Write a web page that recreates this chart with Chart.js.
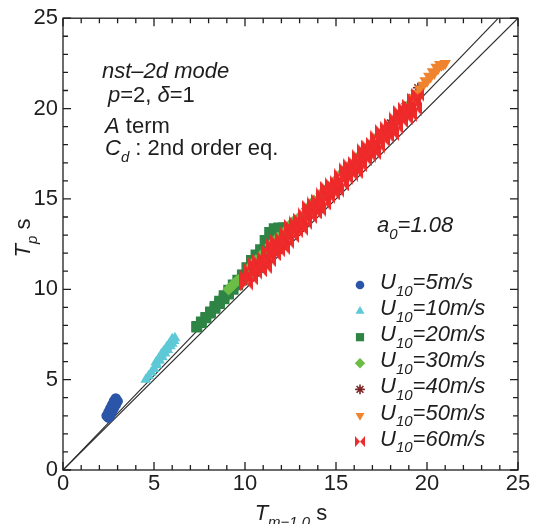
<!DOCTYPE html>
<html><head><meta charset="utf-8">
<script src="https://cdn.jsdelivr.net/npm/chart.js@4.4.1/dist/chart.umd.min.js"></script>
<style>html,body{margin:0;padding:0;background:#fff;}canvas{display:block;}</style>
</head><body>
<canvas id="c" width="535" height="524"></canvas>
<script>
// ---------- data ----------
const axisMin = 0, axisMax = 25, majorStep = 5, minorStep = 1;
const seriesNames = ['5', '10', '20', '30', '40', '50', '60'];
const a0Text = '1.08';

const u05 = [[2.4,3.0],[2.5,3.2],[2.6,3.4],[2.7,3.6],[2.8,3.8],[2.9,3.95],
  [2.5,2.9],[2.6,3.05],[2.7,3.25],[2.8,3.45],[2.9,3.62],[3.0,3.8]];
const u10 = [[4.55,5.0],[4.7,5.2],[4.85,5.4],[5.0,5.6],[5.15,5.8],[5.3,6.05],[5.45,6.25],[5.6,6.45],
  [5.75,6.65],[5.9,6.85],[6.0,7.0],[6.1,7.15],[6.15,7.3],
  [5.1,5.95],[5.25,6.15],[5.4,6.4],[5.55,6.6],[5.7,6.8],[5.85,7.0],[6.0,7.25]];
const u20 = [[7.35,7.95],[7.6,8.2],[7.85,8.45],[8.1,8.75],[8.35,9.05],[8.6,9.35],[8.85,9.65],[9.1,9.95],
  [9.35,10.25],[9.6,10.5],[9.85,10.8],[10.1,11.2],[10.35,11.6],[10.6,11.9],[10.85,12.2],[11.1,12.7],
  [11.35,13.15],[11.6,13.35],[11.85,13.4],[12.1,13.4],[12.3,13.4],
  [7.35,7.9],[7.6,8.16],[7.85,8.42],[8.1,8.68],[8.35,8.95],[8.6,9.21],[8.85,9.47],[9.1,9.73],
  [9.35,9.99],[9.6,10.25],[9.85,10.5],
  [10.2,11.0],[10.5,11.4],[10.8,11.75],[11.1,12.2],[11.4,12.6],[11.7,12.9],[12.0,13.0]];
const u30 = [[9.1,10.0],[9.25,10.15],[9.4,10.3],[9.55,10.45],[9.7,10.55],[10.2,11.15],[10.6,11.6],
  [11.0,12.0],[11.4,12.45],[11.8,12.85],[12.2,13.2],[12.6,13.7],[13.0,14.0],[13.4,14.45],[13.8,14.9],
  [14.2,15.3],[14.6,15.65],[15.0,16.05],[15.4,16.5],[15.8,16.9],[16.2,17.3],[16.6,17.75],[17.0,18.1],
  [17.4,18.55],[17.8,18.95],[18.2,19.35],[18.6,19.8],[19.0,20.2],[19.4,20.6]];
const u40 = [[18.0,19.2],[18.4,19.6],[18.8,20.1],[19.2,20.6],[19.5,21.15]];
const u50 = [[19.2,20.6],[19.4,20.85],[19.6,21.1],[19.8,21.3],[20.0,21.5],[20.2,21.75],[20.4,21.95],
  [20.6,22.2],[20.8,22.4],[20.9,22.45],[21.0,22.5],[19.9,21.55],[20.1,21.8],[20.3,22.05],[20.5,22.3],[20.7,22.45]];
const u60 = [[10.0,10.75],[10.25,11.1],[10.5,11.4],[10.75,11.55],[11.0,11.75],[11.25,12.1],[11.5,12.45],
  [11.75,12.65],[12.0,12.8],[12.25,13.1],[12.5,13.5],[12.75,13.7],[13.0,13.85],[13.25,14.15],[13.5,14.55],
  [13.75,14.75],[14.0,14.9],[14.25,15.25],[14.5,15.6],[14.75,15.8],[15.0,15.95],[15.25,16.3],[15.5,16.65],
  [15.75,16.85],[16.0,17.0],[16.25,17.35],[16.5,17.7],[16.75,17.9],[17.0,18.05],[17.25,18.4],[17.5,18.75],
  [17.75,18.95],[18.0,19.1],[18.25,19.45],[18.5,19.8],[18.75,20.0],[19.0,20.15],[19.25,20.5],[19.5,20.75],
  [10.05,10.55],[10.3,10.85],[10.55,11.15],[10.8,11.3],[11.05,11.5],[11.3,11.85],[11.55,12.2],[11.8,12.4],
  [12.05,12.55],[12.3,12.85],[12.55,13.25],[12.8,13.45],[13.05,13.6],[13.3,13.9],[13.55,14.3],[13.8,14.5],
  [14.05,14.65],[14.3,15.0],[14.55,15.35],[14.8,15.55],[15.05,15.7],[15.3,16.05],[15.55,16.4],[15.8,16.6],
  [16.05,16.75],[16.3,17.1],[16.55,17.45],[16.8,17.65],[17.05,17.8],[17.3,18.15],[17.55,18.5],[17.8,18.7],
  [18.05,18.85],[18.3,19.2],[18.55,19.55],[18.8,19.75],[19.05,19.9],[19.3,20.25],
  [10.1,10.3],[10.35,10.6],[10.6,10.9],[10.85,11.05],[11.1,11.25],[11.35,11.6],[11.6,11.95],[11.85,12.15],
  [12.1,12.3],[12.35,12.6],[12.6,12.95],[12.85,13.2],[13.1,13.35],[13.35,13.65],[13.6,14.0],[13.85,14.25],
  [14.1,14.4],[14.35,14.75],[14.6,15.1],[14.85,15.3],[15.1,15.45],[15.35,15.8],[15.6,16.15],[15.85,16.35],
  [16.1,16.5],[16.35,16.85],[16.6,17.2],[16.85,17.4],[17.1,17.55],[17.35,17.9],[17.6,18.25],[17.85,18.45],
  [18.1,18.6],[18.35,18.95],[18.6,19.3],[18.85,19.5],[19.1,19.65],[19.35,20.0]];
const lineOneToOne = [[0,0],[25,25]];
const lineFit = [[0,0],[23.92,25]];

// ---------- styles ----------
const FONT = '"Liberation Sans", Arial, Helvetica, sans-serif';
const INK = '#1e1e1e';
function bowtie(w, h){
  const c = document.createElement('canvas'); c.width = w; c.height = h;
  const g = c.getContext('2d'); g.fillStyle = '#ee2a2a';
  g.beginPath(); g.moveTo(0,0); g.lineTo(w/2,h/2); g.lineTo(0,h); g.closePath(); g.fill();
  g.beginPath(); g.moveTo(w,0); g.lineTo(w/2,h/2); g.lineTo(w,h); g.closePath(); g.fill();
  return c;
}
const bowBig = bowtie(13, 14), bowSmall = bowtie(10, 11);

const styles = [
  {data:u05, color:'#2a55a8', ps:'circle', r:5.3, lps:'circle', lr:4.3, rot:0},
  {data:u10, color:'#5ec9d6', ps:'triangle', r:6.3, lps:'triangle', lr:5.2, rot:0},
  {data:u20, color:'#2e8444', ps:'rect', r:7.6, lps:'rect', lr:5.8, rot:0},
  {data:u30, color:'#6cbd45', ps:'rectRot', r:6.2, lps:'rectRot', lr:5.2, rot:0},
  {data:u40, color:'#7a2424', ps:'star', r:5, lps:'star', lr:4.8, rot:0, line:true},
  {data:u50, color:'#f0832e', ps:'triangle', r:6.6, lps:'triangle', lr:5.2, rot:180},
  {data:u60, color:'#ee2a2a', ps:bowBig, r:6, lps:bowSmall, lr:5, rot:0}
];

const pts = a => a.map(p => ({x:p[0], y:p[1]}));
const datasets = styles.map((s, i) => ({
  label: 'U10=' + seriesNames[i] + 'm/s',
  data: pts(s.data),
  pointStyle: s.ps, pointRadius: s.r, pointRotation: s.rot,
  backgroundColor: s.color, borderColor: s.color,
  pointBorderWidth: s.line ? 1.6 : 0, borderWidth: s.line ? 1.6 : 0,
  order: 7 - i
}));
[lineOneToOne, lineFit].forEach(l => datasets.push({
  type:'line', data: pts(l), showLine:true, pointRadius:0, borderColor:'#2a2a2a',
  borderWidth:1.2, fill:false, order:100
}));

function rich(ctx, x, y, parts, size, align){
  let w = 0; const seg = [];
  for (const [t, s] of parts){
    const sub = s.includes('s'), it = s.includes('i');
    const fs = sub ? Math.round(size*0.68) : size;
    const f = (it ? 'italic ' : '') + fs + 'px ' + FONT;
    ctx.font = f; const tw = ctx.measureText(t).width;
    seg.push({t, f, tw, dy: sub ? size*0.3 : 0}); w += tw;
  }
  let cx = align === 'center' ? x - w/2 : x;
  for (const s of seg){ ctx.font = s.f; ctx.fillText(s.t, cx, y + s.dy); cx += s.tw; }
}

function drawMarker(ctx, s, x, y){
  ctx.save();
  ctx.fillStyle = s.color; ctx.strokeStyle = s.color; ctx.lineWidth = 1.6;
  const opts = {pointStyle: s.lps, rotation: s.rot, radius: s.lr, borderWidth: s.line ? 1.6 : 0};
  Chart.helpers.drawPoint(ctx, opts, x, y);
  ctx.restore();
}

const decor = {
  id:'decor',
  afterDatasetsDraw(chart){
    const {ctx, chartArea:a, scales:{x, y}} = chart;
    ctx.save();
    ctx.strokeStyle = INK; ctx.lineWidth = 1.3;
    ctx.strokeRect(a.left, a.top, a.right - a.left, a.bottom - a.top);
    ctx.beginPath();
    for (let v = axisMin; v <= axisMax; v += minorStep){
      const L = (v % majorStep === 0) ? 8 : 5;
      const px = x.getPixelForValue(v), py = y.getPixelForValue(v);
      ctx.moveTo(px, a.bottom); ctx.lineTo(px, a.bottom - L);
      ctx.moveTo(px, a.top); ctx.lineTo(px, a.top + L);
      ctx.moveTo(a.left, py); ctx.lineTo(a.left + L, py);
      ctx.moveTo(a.right, py); ctx.lineTo(a.right - L, py);
    }
    ctx.stroke();

    ctx.fillStyle = INK; ctx.textBaseline = 'alphabetic'; ctx.textAlign = 'left';
    // axis titles
    rich(ctx, 291, 520, [['T','i'],['m\u22121.0','is'],[' s','r']], 22, 'center');
    ctx.save(); ctx.translate(30, 238); ctx.rotate(-Math.PI/2);
    rich(ctx, 0, 0, [['T','i'],['p','is'],[' s','r']], 22, 'center');
    ctx.restore();
    // annotations
    rich(ctx, 102, 78, [['nst\u20132d mode','i']], 22);
    rich(ctx, 108, 102, [['p','i'],['=2, ','r'],['\u03b4','i'],['=1','r']], 22);
    rich(ctx, 105, 133, [['A','i'],[' term','r']], 22);
    rich(ctx, 105, 155, [['C','i'],['d','is'],[' : 2nd order eq.','r']], 22);
    rich(ctx, 377, 232, [['a','i'],['0','is'],['=' + a0Text,'i']], 22);
    // legend
    const base0 = 289, step = 26.1;
    styles.forEach((s, i) => {
      const by = base0 + i*step;
      drawMarker(ctx, s, 360, by - 4);
      ctx.fillStyle = INK;
      rich(ctx, 380, by, [['U','i'],['10','is'],['=' + seriesNames[i] + 'm/s','i']], 22);
    });
    ctx.restore();
  }
};

new Chart(document.getElementById('c'), {
  type:'scatter',
  data:{datasets},
  options:{
    responsive:false, animation:false, devicePixelRatio:1,
    layout:{padding:{top:16, right:17, left:0, bottom:0}},
    plugins:{legend:{display:false}, tooltip:{enabled:false}},
    scales:{
      x:{type:'linear', min:axisMin, max:axisMax,
        grid:{display:false, drawTicks:false}, border:{display:false},
        ticks:{stepSize:majorStep, padding:1, color:INK, font:{family:FONT, size:22}},
        afterFit(s){ s.height = 54; }},
      y:{type:'linear', min:axisMin, max:axisMax,
        grid:{display:false, drawTicks:false}, border:{display:false},
        ticks:{stepSize:majorStep, padding:5, color:INK, font:{family:FONT, size:22}},
        afterFit(s){ s.width = 63; }}
    }
  },
  plugins:[decor]
});
</script>
</body></html>
